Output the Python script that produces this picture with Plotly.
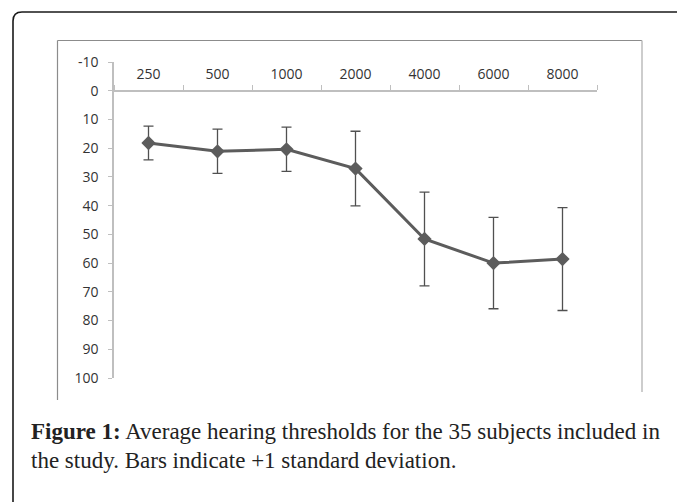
import plotly.graph_objects as go

# ---- data ----
frequencies = ["250", "500", "1000", "2000", "4000", "6000", "8000"]
mean_threshold = [18.2, 21.1, 20.4, 27.1, 51.6, 60.0, 58.6]
std_dev = [5.9, 7.7, 7.7, 13.0, 16.3, 15.9, 17.9]
y_ticks = [-10, 0, 10, 20, 30, 40, 50, 60, 70, 80, 90, 100]
y_tick_labels = ["-10", "0", "10", "20", "30", "40", "50", "60", "70", "80",
                 "90", "100"]
caption_bold = "Figure 1:"
caption_line1 = " Average hearing thresholds for the 35 subjects included in"
caption_line2 = "the study. Bars indicate +1 standard deviation."

# ---- layout geometry (pixels) ----
W, H = 677, 502
L, R, T, B = 114, 80, 62, 124
PW, PH = W - L - R, H - T - B


def px(x):
    return (x - L) / PW


def py(y):
    return (H - B - y) / PH


fig = go.Figure()
fig.add_trace(go.Scatter(
    x=frequencies, y=mean_threshold,
    mode="lines+markers",
    line=dict(color="#5c5c5c", width=3),
    marker=dict(symbol="diamond", size=11, color="#5c5c5c"),
    error_y=dict(type="data", array=std_dev, visible=True,
                 color="#505050", thickness=1.3, width=5),
    showlegend=False,
))

font_axis = dict(family="Open Sans", size=14, color="#333333")

fig.update_layout(
    width=W, height=H,
    margin=dict(l=L, r=R, t=T, b=B),
    paper_bgcolor="white", plot_bgcolor="white",
    xaxis=dict(
        type="category", range=[-0.5, 6.5],
        anchor="free", position=100 / 110, side="top",
        showline=True, linecolor="#bfbfbf", linewidth=1.5,
        ticks="outside", tickson="boundaries", ticklen=5,
        tickcolor="#bfbfbf", tickwidth=1.2,
        ticklabelstandoff=5,
        showgrid=False, zeroline=False,
        tickfont=font_axis,
    ),
    yaxis=dict(
        range=[100, -10], autorange=False,
        tickvals=y_ticks, ticktext=y_tick_labels,
        showline=True, linecolor="#bfbfbf", linewidth=1.5,
        ticks="outside", ticklen=4, tickcolor="#bfbfbf", tickwidth=1.2,
        ticklabelstandoff=7,
        showgrid=False, zeroline=False,
        tickfont=font_axis,
    ),
)

# inner chart box (top, left, right lines)
fig.add_shape(type="line", xref="paper", yref="paper",
              x0=px(57.5), y0=py(40.5), x1=px(642), y1=py(40.5),
              line=dict(color="#8c8c8c", width=1.2))
fig.add_shape(type="line", xref="paper", yref="paper",
              x0=px(57.5), y0=py(40.5), x1=px(57.5), y1=py(400),
              line=dict(color="#8c8c8c", width=1.2))
fig.add_shape(type="line", xref="paper", yref="paper",
              x0=px(642), y0=py(40.5), x1=px(642), y1=py(392),
              line=dict(color="#bdbdbd", width=1.5))

# outer rounded frame
r = 9
path = (f"M {px(13)},{py(H + 5)} L {px(13)},{py(12 + r)} "
        f"Q {px(13)},{py(12)} {px(13 + r)},{py(12)} L {px(W + 5)},{py(12)}")
fig.add_shape(type="path", xref="paper", yref="paper", path=path,
              line=dict(color="#1a1a1a", width=1.6))

# caption
cap_font = dict(family="Liberation Serif", size=23, color="#222222")
fig.add_annotation(xref="paper", yref="paper", x=px(29), y=py(431),
                   xanchor="left", yanchor="middle", showarrow=False,
                   text=f"<b>{caption_bold}</b>{caption_line1}", font=cap_font)
fig.add_annotation(xref="paper", yref="paper", x=px(29), y=py(460),
                   xanchor="left", yanchor="middle", showarrow=False,
                   text=caption_line2, font=cap_font)

fig.write_html("out.html", config={"displayModeBar": False},
               post_script="document.body.style.margin='0';")
